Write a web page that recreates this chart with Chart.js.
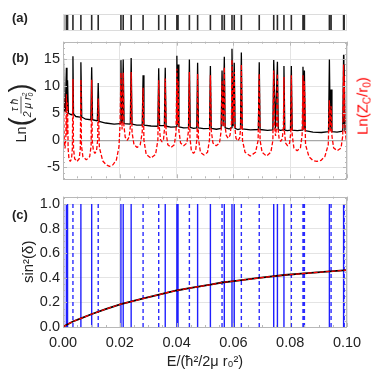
<!DOCTYPE html>
<html><head><meta charset="utf-8">
<script src="https://cdn.jsdelivr.net/npm/chart.js@4.4.1/dist/chart.umd.min.js"></script>
<style>
html,body{margin:0;padding:0;background:#fff;}
#wrap{position:relative;width:374px;height:382px;font-family:"Liberation Sans",Arial,sans-serif;color:#222;overflow:hidden;}
canvas{position:absolute;left:0;}
.lbl{position:absolute;font-weight:bold;font-size:13px;line-height:14px;}
.rot{position:absolute;width:max-content;transform:translate(-50%,-50%) rotate(-90deg);white-space:nowrap;line-height:1;}
.frac{display:inline-flex;flex-direction:column;align-items:center;font-size:10.5px;font-style:italic;line-height:11px;vertical-align:middle;}
.num{border-bottom:1px solid #555;padding:0 2px 1px 2px;}
.par{display:inline-block;font-size:27px;font-weight:300;transform:scaleY(1.1);vertical-align:middle;}
.st{display:inline-flex;flex-direction:column;font-size:7px;line-height:6px;vertical-align:middle;}
.sb{font-size:10px;position:relative;top:3px;vertical-align:baseline;}
</style></head>
<body><div id="wrap">
<canvas id="ca" width="374" height="35" style="top:0px"></canvas>
<canvas id="cb" width="374" height="160" style="top:30px"></canvas>
<canvas id="cc" width="374" height="197" style="top:185px"></canvas>
<div class="lbl" style="left:12px;top:11px;">(a)</div>
<div class="lbl" style="left:12px;top:51px;">(b)</div>
<div class="lbl" style="left:12px;top:208px;">(c)</div>
<div class="rot" style="left:21px;top:113px;font-size:14.5px;">
 <span style="display:inline-flex;align-items:center;">Ln<span class="par">(</span><span class="frac"><span class="num">τ ħ</span><span>2 μ r<span class="st"><span>2</span><span>0</span></span></span></span><span class="par">)</span></span>
</div>
<div class="rot" style="left:362px;top:106px;font-size:15px;color:#f00;">Ln(Z<span class="sb">C</span>/r<span class="sb">0</span>)</div>
</div>
<script>
// ---------- data ----------
// resonance energies (panel a bars, panel c blue lines)
const resE = [0.0002,0.0012,0.0016,0.0035,0.0063,0.0101,0.0124,0.0204,0.0212,0.0240,0.0282,0.0337,0.0360,0.0401,0.0405,0.0445,0.0474,0.0519,0.0560,0.0568,0.0595,0.0603,0.0628,0.0691,0.0742,0.0755,0.0778,0.0804,0.0845,0.0850,0.0938,0.0944,0.0988,0.0990];
// line style of each resonance in panel c: s = solid, d = dashed
const resStyle = ['s','s','s','d','s','s','d','s','s','s','d','d','s','s','s','d','s','s','d','s','s','s','d','d','s','s','s','d','d','d','s','d','s','d'];
// panel b, black curve: Ln(tau hbar / 2 mu r0^2) as [E, value]
const lnTau = [[0,7.0],[0.0001,6.0],[0.0002,15.2],[0.0004,5.6],[0.0008,5.3],[0.0012,13.4],[0.0014,5.4],[0.0016,11.1],[0.0019,5.0],[0.0030,4.7],[0.0033,4.9],[0.0035,15.5],[0.0037,4.9],[0.0045,4.4],[0.0060,4.3],[0.0063,14.4],[0.0066,4.3],[0.0080,3.9],[0.0098,3.8],[0.0101,13.5],[0.0104,3.8],[0.0121,3.6],[0.0124,10.6],[0.0127,3.5],[0.0150,3.2],[0.0180,3.0],[0.0201,3.1],[0.0204,14.8],[0.0207,3.3],[0.0209,3.3],[0.0212,14.9],[0.0215,3.1],[0.0237,3.0],[0.0240,15.2],[0.0243,3.0],[0.0260,2.8],[0.0279,2.8],[0.0282,12.0],[0.0285,2.8],[0.0310,2.65],[0.0334,2.6],[0.0337,13.3],[0.0340,2.7],[0.0357,2.7],[0.0360,13.4],[0.0363,2.6],[0.0380,2.45],[0.0398,2.5],[0.0401,15.6],[0.0403,2.9],[0.0405,14.0],[0.0408,2.5],[0.0425,2.3],[0.0442,2.35],[0.0445,14.9],[0.0448,2.4],[0.0460,2.2],[0.0471,2.3],[0.0474,14.3],[0.0477,2.3],[0.0495,2.15],[0.0516,2.2],[0.0519,13.7],[0.0522,2.2],[0.0540,2.05],[0.0557,2.2],[0.0560,12.9],[0.0564,2.6],[0.0568,15.4],[0.0571,2.3],[0.0585,2.1],[0.0592,2.3],[0.0595,16.9],[0.0599,2.6],[0.0603,14.3],[0.0606,2.2],[0.0615,2.0],[0.0625,2.1],[0.0628,16.2],[0.0631,2.1],[0.0660,1.95],[0.0688,2.0],[0.0691,14.4],[0.0694,2.0],[0.0720,1.85],[0.0739,1.95],[0.0742,14.8],[0.0748,2.2],[0.0755,14.5],[0.0758,2.0],[0.0766,1.85],[0.0775,1.95],[0.0778,13.7],[0.0781,1.9],[0.0790,1.8],[0.0801,1.9],[0.0804,13.7],[0.0807,1.9],[0.0825,1.8],[0.0842,1.9],[0.0845,13.6],[0.0848,2.1],[0.0850,12.9],[0.0853,1.8],[0.0880,1.5],[0.0910,1.45],[0.0935,1.6],[0.0938,14.9],[0.0941,1.9],[0.0944,9.4],[0.0947,1.6],[0.0965,1.5],[0.0985,1.7],[0.0988,15.8],[0.0989,3.0],[0.0990,14.0],[0.0993,1.7],[0.1,1.6]];
// panel b, red dashed curve: Ln(Zc / r0) as [E, value]
const lnZc = [[0,-7.0],[0.0001,-1.0],[0.0002,8.0],[0.0004,0.5],[0.0007,-1.5],[0.0010,0.5],[0.0012,8.5],[0.0014,1.0],[0.0016,7.0],
[0.0018,-1.5],[0.0021,-3.4],[0.00255,-3.9],[0.0030,-3.4],[0.0033,-1.5],[0.0035,11.3],
[0.0037,-1.5],[0.0041,-3.4],[0.0049,-3.9],[0.0057,-3.4],[0.0061,-1.5],[0.0063,11.2],
[0.0065,-1.0],[0.0070,-3.0],[0.0082,-3.6],[0.0094,-3.0],[0.0099,-1.0],[0.0101,11.2],
[0.0103,0.0],[0.0107,-1.9],[0.01125,-2.4],[0.0118,-1.9],[0.0122,0.0],[0.0124,7.7],
[0.0128,-1.3],[0.0140,-3.8],[0.0152,-4.5],[0.0164,-4.8],[0.0176,-4.5],[0.0188,-3.6],[0.0197,-1.2],[0.0201,3.0],[0.0204,12.5],
[0.0208,2.0],[0.0212,12.5],
[0.0214,3.0],[0.0219,0.6],[0.0226,0.0],[0.0233,0.6],[0.0238,3.0],[0.0240,12.6],
[0.0243,1.5],[0.0250,-0.8],[0.0261,-1.3],[0.0272,-0.8],[0.0279,1.5],[0.0282,9.7],
[0.0285,0.0],[0.0293,-2.6],[0.03095,-3.3],[0.0326,-2.6],[0.0334,0.0],[0.0337,11.1],
[0.0339,2.5],[0.0343,0.2],[0.03485,-0.3],[0.0354,0.2],[0.0358,2.5],[0.0360,11.4],
[0.0363,1.5],[0.0369,-0.8],[0.03805,-1.3],[0.0392,-0.8],[0.0398,1.5],[0.0401,13.2],
[0.0403,3.0],[0.0405,11.1],
[0.0408,1.8],[0.0414,-0.5],[0.0425,-1.0],[0.0436,-0.5],[0.0442,1.8],[0.0445,12.6],
[0.0447,0.5],[0.0452,-1.9],[0.04595,-2.4],[0.0467,-1.9],[0.0472,0.5],[0.0474,12.3],
[0.0477,0.2],[0.0484,-2.2],[0.04965,-2.7],[0.0509,-2.2],[0.0516,0.2],[0.0519,12.0],
[0.0522,1.8],[0.0528,-0.5],[0.05395,-1.0],[0.0551,-0.5],[0.0557,1.8],[0.0560,10.9],
[0.0564,2.5],[0.0568,13.5],
[0.0570,3.0],[0.0575,0.9],[0.05815,0.4],[0.0588,0.9],[0.0593,3.0],[0.0595,14.9],
[0.0599,3.0],[0.0603,12.6],
[0.0605,2.5],[0.0609,0.4],[0.06155,-0.1],[0.0622,0.4],[0.0626,2.5],[0.0628,14.0],
[0.0632,0.0],[0.0641,-2.2],[0.06595,-2.9],[0.0678,-2.2],[0.0687,0.0],[0.0691,12.3],
[0.0694,0.0],[0.0701,-2.2],[0.07165,-2.9],[0.0732,-2.2],[0.0739,0.0],[0.0742,12.9],
[0.0745,2.5],[0.07485,0.8],[0.0752,2.5],[0.0755,12.3],
[0.0757,2.3],[0.0761,0.3],[0.07665,-0.2],[0.0772,0.3],[0.0776,2.3],[0.0778,11.7],
[0.0780,1.5],[0.0784,-0.5],[0.0791,-1.0],[0.0798,-0.5],[0.0802,1.5],[0.0804,12.0],
[0.0807,1.0],[0.0813,-1.4],[0.08245,-1.9],[0.0836,-1.4],[0.0842,1.0],[0.0845,12.0],
[0.08475,2.0],[0.0850,10.9],
[0.0854,-0.8],[0.0866,-3.0],[0.0880,-3.7],[0.0894,-3.9],[0.0908,-3.7],[0.0922,-3.0],[0.0934,-0.8],[0.0938,7.4],
[0.0941,1.5],[0.0944,6.3],
[0.0947,0.8],[0.0953,-1.4],[0.0966,-1.9],[0.0979,-1.4],[0.0985,0.8],[0.0988,14.0],
[0.0989,4.0],[0.0990,12.0],[0.0993,2.0],[0.0997,0.2],[0.1,0.0]];
// panel c, background sin^2(delta) as [E, value]
const sin2Bg = [[0,0],[0.001,0.014],[0.0035,0.045],[0.0063,0.07],[0.0102,0.106],[0.015,0.145],[0.0204,0.186],[0.028,0.23],[0.036,0.276],[0.040,0.297],[0.0445,0.316],[0.0519,0.344],[0.056,0.362],[0.0595,0.372],[0.069,0.399],[0.078,0.423],[0.085,0.436],[0.094,0.452],[0.1,0.463]];
const xTickLabelsDigits = 2;
const yTicksC = [0, 0.2, 0.4, 0.6, 0.8, 1.0];

// ---------- helpers ----------
const FONT = '"Liberation Sans", Arial, sans-serif';
const pts = arr => arr.map(p => ({x: p[0], y: p[1]}));
function vlines(list, y0, y1) {
  const out = [];
  list.forEach(e => { out.push({x: e, y: y0}, {x: e, y: y1}, {x: e, y: null}); });
  return out;
}
const frame = {
  id: 'frame',
  afterDatasetsDraw(chart, args, o) {
    if (!o || !o.color) return;
    const {ctx, chartArea: a, scales} = chart;
    ctx.save();
    ctx.strokeStyle = o.color; ctx.lineWidth = 1;
    ctx.strokeRect(Math.round(a.left) + 0.5, Math.round(a.top) + 0.5, Math.round(a.right - a.left) - 1, Math.round(a.bottom - a.top));
    if (o.ticks) {
      const t = o.ticks;
      ctx.beginPath();
      const xs = scales.x, ys = scales.y;
      for (let i = 0; ; i++) {
        const v = +(xs.min + i * t.xMinor).toFixed(6);
        if (v > xs.max + 1e-9) break;
        const px = Math.round(xs.getPixelForValue(v)) + 0.5;
        const major = Math.abs(v / t.xMajor - Math.round(v / t.xMajor)) < 1e-6;
        const L = major ? 4 : 2;
        ctx.moveTo(px, a.bottom); ctx.lineTo(px, a.bottom - L);
        ctx.moveTo(px, a.top); ctx.lineTo(px, a.top + L);
      }
      const y0 = Math.ceil(ys.min / t.yMinor - 1e-9);
      for (let i = y0; ; i++) {
        const v = +(i * t.yMinor).toFixed(6);
        if (v > ys.max + 1e-9) break;
        const py = Math.round(ys.getPixelForValue(v)) + 0.5;
        const major = Math.abs(v / t.yMajor - Math.round(v / t.yMajor)) < 1e-6;
        const L = major ? 4 : 2;
        ctx.moveTo(a.left, py); ctx.lineTo(a.left + L, py);
        ctx.moveTo(a.right, py); ctx.lineTo(a.right - L, py);
      }
      ctx.stroke();
    }
    ctx.restore();
  }
};
Chart.register(frame);
Chart.defaults.font.family = FONT;
Chart.defaults.color = '#222';
Chart.defaults.animation = false;
Chart.defaults.events = [];
Chart.defaults.plugins.legend.display = false;
Chart.defaults.plugins.tooltip.enabled = false;
Chart.defaults.elements.point.radius = 0;

const xBase = {type: 'linear', min: 0, max: 0.1};
const gridCol = '#e4e4e4';

// ---------- panel (a) ----------
new Chart(document.getElementById('ca'), {
  type: 'scatter',
  data: {datasets: [{data: vlines(resE, 0, 1), showLine: true, borderColor: '#2a2a2a', borderWidth: 1.6, spanGaps: false}]},
  options: {
    responsive: false,
    layout: {padding: {left: 63, right: 27, top: 14, bottom: 5}},
    scales: {x: Object.assign({display: false}, xBase), y: {display: false, min: 0, max: 1}},
    plugins: {frame: {color: '#dcdcdc'}}
  }
});

// ---------- panel (b) ----------
new Chart(document.getElementById('cb'), {
  type: 'scatter',
  data: {datasets: [
    {data: pts(lnZc), showLine: true, borderColor: '#ff0000', borderWidth: 1.3, borderDash: [4, 2], borderJoinStyle: 'bevel'},
    {data: pts(lnTau), showLine: true, borderColor: '#000000', borderWidth: 1.3, borderJoinStyle: 'bevel'}
  ]},
  options: {
    responsive: false,
    layout: {padding: {left: 0, right: 27, top: 9, bottom: 5}},
    scales: {
      x: Object.assign({
        ticks: {display: false, stepSize: 0.02},
        grid: {color: gridCol, drawTicks: false},
        border: {display: false},
        afterFit: s => { s.height = 0; }
      }, xBase),
      y: {
        min: -7, max: 18.2,
        ticks: {stepSize: 5, includeBounds: false, padding: 3, font: {size: 14.5}, color: '#222'},
        grid: {color: c => (c.tick && c.tick.value === 0) ? '#a8a8a8' : gridCol, lineWidth: c => (c.tick && c.tick.value === 0) ? 1.2 : 1, drawTicks: false},
        border: {display: false},
        afterFit: s => { s.width = 63; }
      }
    },
    plugins: {frame: {color: '#b8b8b8', ticks: {xMajor: 0.02, xMinor: 0.005, yMajor: 5, yMinor: 1}}}
  }
});

// ---------- panel (c) ----------
const solidE = resE.filter((e, i) => resStyle[i] === 's');
const dashE = resE.filter((e, i) => resStyle[i] === 'd');
new Chart(document.getElementById('cc'), {
  type: 'scatter',
  data: {datasets: [
    {data: pts(sin2Bg), showLine: true, borderColor: '#ff0000', borderWidth: 1.2, borderDash: [4, 2]},
    {data: pts(sin2Bg), showLine: true, borderColor: '#000000', borderWidth: 1.8},
    {data: vlines(solidE, 0, 1), showLine: true, borderColor: 'rgba(20,20,255,0.95)', borderWidth: 1.4, spanGaps: false},
    {data: vlines(dashE, 0, 1), showLine: true, borderColor: 'rgba(20,20,255,0.9)', borderWidth: 1.4, borderDash: [4, 3], spanGaps: false}
  ]},
  options: {
    responsive: false,
    layout: {padding: {left: 0, right: 27, top: 9, bottom: 0}},
    scales: {
      x: Object.assign({
        ticks: {stepSize: 0.02, padding: 7, font: {size: 14.5}, color: '#222', maxRotation: 0,
          callback: v => v.toFixed(xTickLabelsDigits)},
        grid: {color: gridCol, drawTicks: false},
        border: {display: false},
        title: {display: true, text: 'E/(ħ²/2μ r₀²)', font: {size: 14.5}, color: '#222', padding: {top: 0, bottom: 11}},
        afterFit: s => { s.height = 55; }
      }, xBase),
      y: {
        min: 0, max: 1.06,
        ticks: {stepSize: 0.2, includeBounds: false, padding: 3, font: {size: 14.5}, color: '#222',
          callback: v => yTicksC.some(t => Math.abs(t - v) < 1e-9) ? v.toFixed(1) : ''},
        grid: {color: gridCol, drawTicks: false},
        border: {display: false},
        title: {display: true, text: 'sin²(δ)', font: {size: 15}, color: '#222', padding: {top: 20, bottom: 0}},
        afterFit: s => { s.width = 63; }
      }
    },
    plugins: {frame: {color: '#b8b8b8', ticks: {xMajor: 0.02, xMinor: 0.005, yMajor: 0.2, yMinor: 0.05}}}
  }
});
</script>
</body></html>
